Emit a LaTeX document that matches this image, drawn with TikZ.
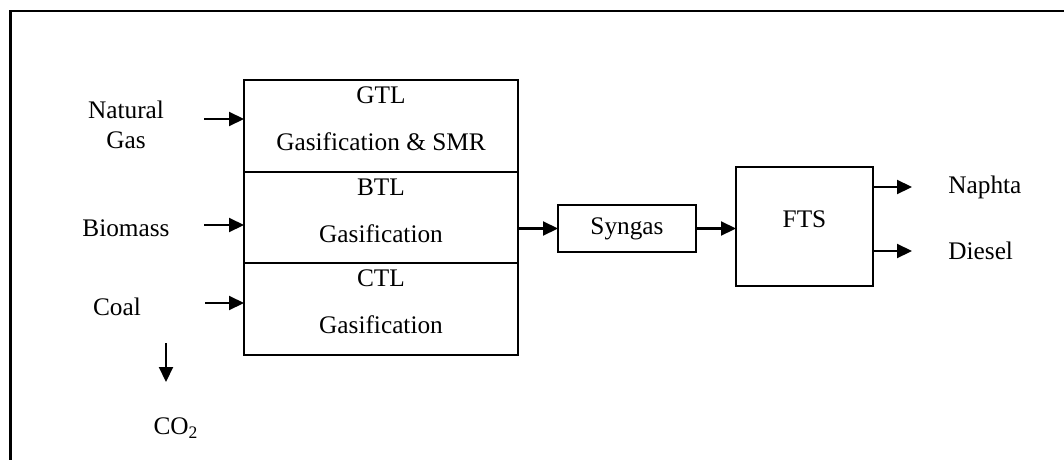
\documentclass[tikz,border=0pt]{standalone}
\usepackage{fontspec}
\setmainfont{Liberation Serif}
\usepackage{tikz}
\usetikzlibrary{arrows.meta, positioning, calc}
\tikzset{
    stage/.style={rectangle, draw, line width=1.1pt, minimum width=5.48cm, minimum height=1.833cm, inner sep=0pt, outer sep=0pt},
    stagetext/.style={align=center, font=\fontsize{14.4}{17.3}\selectfont},
    unit/.style={rectangle, draw, line width=1.1pt, outer sep=0pt, font=\fontsize{14.4}{17.3}\selectfont},
    feed/.style={align=center, inner sep=0.1cm, font=\fontsize{14.4}{17.3}\selectfont},
    flow/.style={-{Triangle[length=0.3cm, width=0.28cm]}, line width=1.2pt}
}

\begin{document}
\begin{tikzpicture}[node distance=0cm]
    \useasboundingbox (0,0) rectangle (21.28,-9.18);
    \draw[line width=1.7pt] (0.21,-9.40) |- (21.50,-0.22);

    % stacked conversion routes
    \node[stage] (gtl) at (7.62,-2.517) {};
    \node[stage, below=of gtl] (btl) {};
    \node[stage, below=of btl] (ctl) {};
    \node[stagetext] at ([yshift=0.14cm]gtl.center) {GTL\\[9.4pt]Gasification \& SMR};
    \node[stagetext] at ([yshift=0.14cm]btl.center) {BTL\\[9.4pt]Gasification};
    \node[stagetext] at ([yshift=0.14cm]ctl.center) {CTL\\[9.4pt]Gasification};

    \node[unit, minimum width=2.76cm, minimum height=0.94cm] (syngas) at (12.54,-4.57) {Syngas};
    \node[unit, minimum width=2.74cm, minimum height=2.38cm] (fts) at (16.09,-4.53) {};
    \node[font=\fontsize{14.4}{17.3}\selectfont] at ([yshift=0.14cm]fts.center) {FTS};

    % feedstocks
    \node[feed] (natgas) at (2.52,-2.50) {Natural\\Gas};
    \node[feed] (biomass) at (2.52,-4.56) {Biomass};
    \node[feed] (coal) at (2.34,-6.14) {Coal};
    \node[feed] (co2) at (3.52,-8.56) {CO\textsubscript{2}};

    \coordinate (ngin) at (4.08,-2.38);
    \coordinate (bmin) at (4.08,-4.50);
    \coordinate (coin) at (4.10,-6.06);
    \coordinate (co2top) at (3.32,-6.86);
    \coordinate (co2end) at (3.32,-7.64);

    \draw[flow] (ngin) -- (ngin -| gtl.west);
    \draw[flow] (bmin) -- (bmin -| btl.west);
    \draw[flow] (coin) -- (coin -| ctl.west);
    \draw[flow] (co2top) -- (co2end);

    \draw[flow] (btl.east |- syngas) -- (syngas.west);
    \draw[flow] (syngas.east) -- (fts.west |- syngas);

    % products
    \node[feed, anchor=west] (naphta) at (18.86,-3.74) {Naphta};
    \node[feed, anchor=west] (diesel) at (18.86,-5.02) {Diesel};
    \draw[flow] (fts.east |- naphta) -- ([xshift=-0.62cm]naphta.west);
    \draw[flow] (fts.east |- diesel) -- ([xshift=-0.62cm]diesel.west);
\end{tikzpicture}
\end{document}
